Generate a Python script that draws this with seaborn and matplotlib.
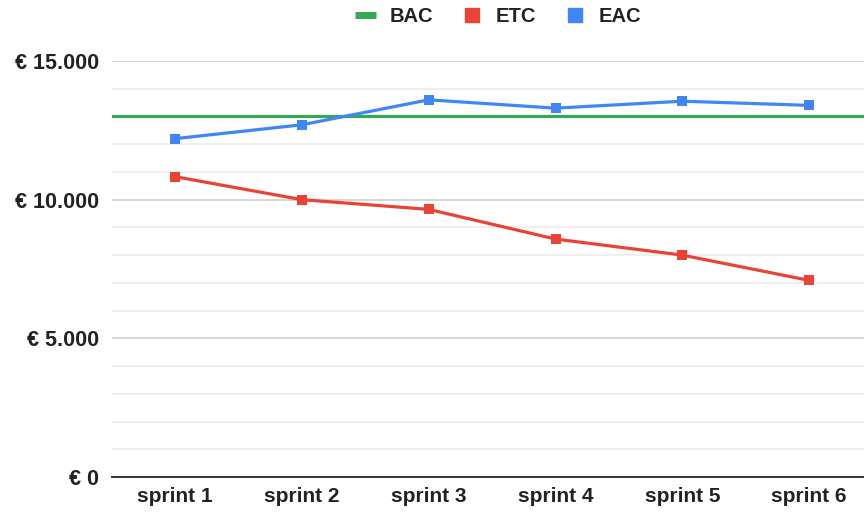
import pandas as pd
import matplotlib

matplotlib.use('Agg')
import matplotlib.pyplot as plt
import seaborn as sns
from matplotlib.lines import Line2D
from matplotlib.ticker import FuncFormatter, MultipleLocator

# ---- data ----
sprints = ['sprint 1', 'sprint 2', 'sprint 3', 'sprint 4', 'sprint 5', 'sprint 6']
bac = 13000
etc = [10830, 10000, 9650, 8580, 8000, 7090]
eac = [12200, 12700, 13600, 13300, 13550, 13400]

col_bac = '#34a853'
col_etc = '#ea4335'
col_eac = '#4285f4'

sns.set_theme(style="white")
plt.rcParams['font.family'] = ['Liberation Sans', 'DejaVu Sans']
plt.rcParams['font.weight'] = 'bold'

df = pd.DataFrame({'sprint': sprints * 2,
                   'valore': etc + eac,
                   'serie': ['ETC'] * len(sprints) + ['EAC'] * len(sprints)})

fig = plt.figure(figsize=(8.64, 5.12), dpi=100)
ax = fig.add_axes([111.6 / 864, 35 / 512, 761 / 864, 416 / 512])

# BAC e' costante: linea orizzontale su tutta l'area
ax.axhline(bac, color=col_bac, lw=2.3, zorder=3)

sns.lineplot(data=df, x='sprint', y='valore', hue='serie',
             palette={'ETC': col_etc, 'EAC': col_eac},
             marker='s', markersize=7.2, markeredgewidth=0,
             linewidth=2.3, legend=False, ax=ax, zorder=4)

ax.set_xlim(-0.5, len(sprints) - 0.5)
ax.set_ylim(0, 15000)
ax.yaxis.set_major_locator(MultipleLocator(5000))
ax.yaxis.set_minor_locator(MultipleLocator(1000))
ax.yaxis.set_major_formatter(FuncFormatter(lambda v, p: '€ ' + f'{int(v):,}'.replace(',', '.')))
ax.grid(which='major', axis='y', color='#cccccc', lw=1.1)
ax.grid(which='minor', axis='y', color='#ebebeb', lw=1.1)
ax.grid(axis='x', visible=False)

for s in ['top', 'right', 'left']:
    ax.spines[s].set_visible(False)
ax.spines['bottom'].set_color('#333333')
ax.spines['bottom'].set_linewidth(1.4)
ax.spines['bottom'].set_zorder(5)

ax.tick_params(axis='y', which='both', length=0, pad=9, labelsize=15.5, labelcolor='#222222')
ax.tick_params(axis='x', length=0, pad=7, labelsize=15, labelcolor='#222222')
for lab in ax.get_xticklabels() + ax.get_yticklabels():
    lab.set_fontweight('bold')
ax.set_xlabel('')
ax.set_ylabel('')

handles = [Line2D([], [], color=col_bac, lw=5, solid_capstyle='butt', label='BAC'),
           Line2D([], [], color=col_etc, marker='s', ls='', markersize=10, label='ETC'),
           Line2D([], [], color=col_eac, marker='s', ls='', markersize=10, label='EAC')]
fig.legend(handles=handles, loc='center', bbox_to_anchor=(498 / 864, 1 - 17 / 512), ncol=3,
           frameon=False, handlelength=1.05, handletextpad=0.67, columnspacing=1.4,
           prop={'size': 14.5, 'weight': 'bold'}, labelcolor='#222222')

fig.savefig('out.png', dpi=100)
